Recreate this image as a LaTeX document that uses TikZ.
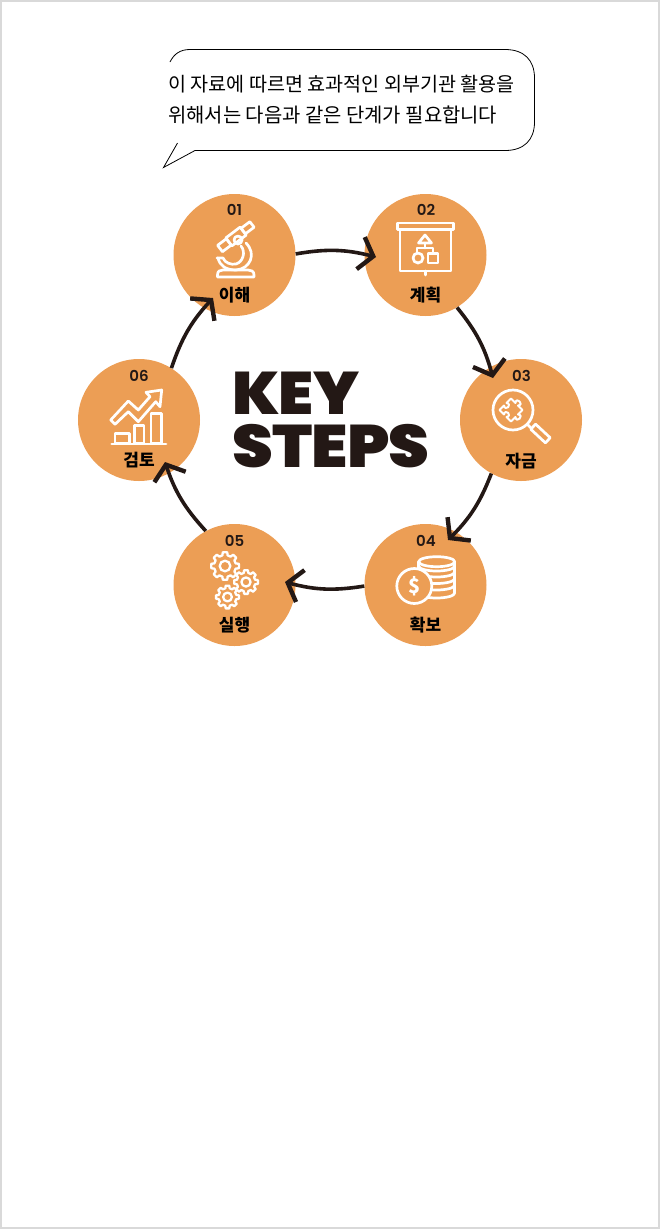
\documentclass[tikz,border=0pt]{standalone}
\usepackage{fontspec}
\setmainfont{Noto Sans CJK KR}
\newfontfamily\numfont{Poppins SemiBold}
\newfontfamily\keyfont[LetterSpace=-1.5,FakeStretch=1.05]{Poppins Black}
\usetikzlibrary{arrows.meta}
\usetikzlibrary{positioning}
\usetikzlibrary{calc}
\definecolor{steporange}{HTML}{EC9E55}
\definecolor{stepdark}{HTML}{231815}
\definecolor{framegray}{HTML}{D9D9D9}
\tikzset{
  stepcircle/.style={circle,fill=steporange,minimum size=122pt,inner sep=0pt},
  stepnum/.style={font=\numfont\fontsize{15}{16}\selectfont,text=stepdark,inner sep=0pt},
  steplabel/.style={font=\bfseries\fontsize{17}{18}\selectfont,text=black,inner sep=0pt},
  flow/.style={draw=stepdark,line width=3.6pt,-{Straight Barb[length=13pt,width=33pt,line width=4.4pt]}},
  icon/.style={draw=white,line width=2.7pt,line join=round,line cap=round},
  keytext/.style={font=\keyfont\fontsize{60}{53}\selectfont,text=stepdark,inner sep=0pt,anchor=west,align=left},
  talk/.style={font=\fontsize{19.6}{20}\selectfont,text=black,inner sep=0pt,anchor=west}
}
\newcommand{\gearicon}[3]{%
  \draw[icon,line width=2.3pt] ($(#1,#2)+(0:#3)$)
    \foreach \a in {0,45,...,315} {
      -- ($(#1,#2)+(\a+9:#3)$) -- ($(#1,#2)+(\a+14:0.78*#3)$) -- ($(#1,#2)+(\a+31:0.78*#3)$) -- ($(#1,#2)+(\a+36:#3)$)
    } -- cycle;
  \draw[icon,line width=2.3pt] (#1,#2) circle[radius=0.38*#3];
}
\begin{document}
\begin{tikzpicture}[x=1pt,y=-1pt]
  \useasboundingbox (0,0) rectangle (660,1229);
  \draw[framegray,line width=2pt] (1,1) rectangle (659,1228);

  % speech bubble
  \draw[black,line width=.8pt] (170,62) .. controls (174,54) and (180,49.5) .. (190,49.5)
    -- (505,49.5) .. controls (524,49.5) and (534.5,60) .. (534.5,78)
    -- (534.5,122) .. controls (534.5,140) and (524,150.5) .. (505,150.5)
    -- (195,150.5) -- (163.5,167.5) -- (177.5,143);
  \node[talk] (talk1) at (168,84) {이 자료에 따르면 효과적인 외부기관 활용을};
  \node[talk,font=\fontsize{19.9}{20}\selectfont] (talk2) at (168,115) {위해서는 다음과 같은 단계가 필요합니다};

  % circles
  \node[stepcircle] (n01) at (234.5,255) {};
  \node[stepcircle] (n02) at (425.5,255) {};
  \node[stepcircle] (n03) at (521,420) {};
  \node[stepcircle] (n04) at (425.5,585) {};
  \node[stepcircle] (n05) at (234.5,585) {};
  \node[stepcircle] (n06) at (139,420) {};

  \node[stepnum] (num01) at (234.5,210) {01};
  \node[stepnum] (num02) at (426,210) {02};
  \node[stepnum] (num03) at (521.5,376) {03};
  \node[stepnum] (num04) at (426,541) {04};
  \node[stepnum] (num05) at (234.5,541) {05};
  \node[stepnum] (num06) at (139,376) {06};

  \node[steplabel] (lab01) at (234.5,295) {이해};
  \node[steplabel] (lab02) at (425.5,295) {계획};
  \node[steplabel] (lab03) at (521,461) {자금};
  \node[steplabel] (lab04) at (425.5,625) {확보};
  \node[steplabel] (lab05) at (234.5,625) {실행};
  \node[steplabel] (lab06) at (139,460) {검토};

  % connectors
  \coordinate (tip02) at (376,257);
  \coordinate (tip03) at (493,378);
  \coordinate (tip04) at (448,540);
  \coordinate (tip05) at (285,582);
  \coordinate (tip06) at (165,462);
  \coordinate (tip01) at (213,298);
  \draw[flow] (n01.1) to[bend left=12] (tip02);
  \draw[flow] (n02.-59) to[bend left=12] (tip03);
  \draw[flow] (n03.-119) to[bend left=12] (tip04);
  \draw[flow] (n04.181) to[bend left=12] (tip05);
  \draw[flow] (n05.118) to[bend left=12] (tip06);
  \draw[flow] (n06.58) to[bend left=12] (tip01);

  % title
  \node[keytext] (key) at (232,419.5) {KEY\\\addfontfeature{FakeStretch=1.09}STEPS};

  % microscope
  \draw[icon] (217.5,277) -- (254,277) -- (254,275) .. controls (254,271) and (251,270) .. (248,270) -- (223,270) .. controls (220,270) and (217.5,271) .. (217.5,275) -- cycle;
  \draw[icon] (217,258) -- (223,258) .. controls (225,263) and (231,265) .. (236,264) .. controls (243,262) and (246,252) .. (241,246);
  \draw[icon] (218,258) .. controls (220,266) and (226,270) .. (236,270) .. controls (250,269) and (257,254) .. (246,243);
  \draw[icon] (238,240) circle[radius=4];
  \begin{scope}[shift={(236,236.5)},rotate=37]
    \draw[icon] (-20,-4) rectangle (-9,4);
    \draw[icon] (-9,-5) -- (9,-5) -- (9,5) -- (-9,5) -- cycle;
    \draw[icon] (9,-3.5) rectangle (20,3.5);
  \end{scope}

  % board
  \draw[icon] (397.5,223) rectangle (453.5,229.5);
  \draw[icon] (400,230) -- (400,271) -- (451,271) -- (451,230);
  \draw[icon] (425.5,271) -- (425.5,275);
  \draw[icon] (425,235) -- (418.5,243) -- (431.5,243) -- cycle;
  \draw[icon] (425,243) -- (425,248) (417,253) -- (417,248) -- (433,248) -- (433,253);
  \draw[icon] (418,258) circle[radius=5];
  \draw[icon] (428,253.5) rectangle (438,263);

  % magnifier
  \draw[icon] (513,410) circle[radius=20];
  \draw[icon] (527,424) -- (532,429);
  \begin{scope}[shift={(540.5,433.5)},rotate=-43]
    \draw[icon] (-10,-3.5) rectangle (10,3.5);
  \end{scope}
  \begin{scope}[shift={(511,410)},rotate=-45,scale=.9]
    \draw[icon,line width=2pt] (-9,-9) -- (-2,-9) .. controls (-7,-15) and (7,-15) .. (2,-9) -- (9,-9) -- (9,-2) .. controls (15,-7) and (15,7) .. (9,2)
      -- (9,9) -- (2,9) .. controls (6,3) and (-6,3) .. (-2,9) -- (-9,9) -- (-9,2) .. controls (-3,6) and (-3,-6) .. (-9,-2) -- cycle;
  \end{scope}

  % coins
  \draw[icon] (436.7,561.7) ellipse[x radius=18,y radius=5];
  \draw[icon] (418.7,561.7) -- (418.7,570) (454.7,561.7) -- (454.7,593);
  \draw[icon] (454.7,566) arc[start angle=0,end angle=180,x radius=18,y radius=5];
  \draw[icon] (454.7,572) arc[start angle=0,end angle=180,x radius=18,y radius=5];
  \draw[icon] (454.7,578.5) arc[start angle=0,end angle=180,x radius=18,y radius=5];
  \draw[icon] (454.7,585) arc[start angle=0,end angle=180,x radius=18,y radius=5];
  \draw[icon] (454.7,593) arc[start angle=0,end angle=180,x radius=18,y radius=5];
  \draw[icon,fill=steporange] (414.3,586) circle[radius=17.5];
  \node[font=\bfseries\fontsize{20}{20}\selectfont,text=white,inner sep=0pt] (dollar) at (414.3,586) {\$};

  % gears
  \gearicon{225}{566}{14}
  \gearicon{246}{582}{12}
  \gearicon{227.5}{597}{11.5}

  % chart
  \draw[icon] (111.7,444) -- (166,444);
  \draw[icon] (115,443) rectangle (129.3,433.3);
  \draw[icon] (134.3,443) rectangle (144,425.7);
  \draw[icon] (151,443) rectangle (161.7,413.3);
  \draw[icon] (110.7,420) -- (128.3,401) -- (138.3,410) -- (150,396.7) -- (146,392.3) -- (161.7,390) -- (160,406.7) -- (155.7,401.7) -- (138.3,421.7) -- (128.3,411.7) -- (115,424.3) -- cycle;
\end{tikzpicture}
\end{document}
